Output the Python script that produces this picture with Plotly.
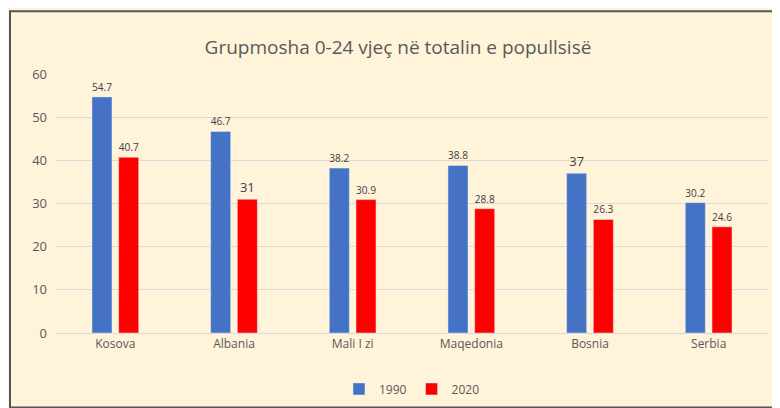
import plotly.graph_objects as go

categories = ["Kosova", "Albania", "Mali I zi", "Maqedonia", "Bosnia", "Serbia"]
v1990 = [54.7, 46.7, 38.2, 38.8, 37, 30.2]
v2020 = [40.7, 31, 30.9, 28.8, 26.3, 24.6]

fig = go.Figure()
fig.add_bar(x=categories, y=v1990, name="1990", marker_color="#4472C4",
            text=[str(v) for v in v1990], textposition="outside", cliponaxis=False,
            textfont=dict(color="#404040", size=13))
fig.add_bar(x=categories, y=v2020, name="2020", marker_color="#FF0000",
            text=[str(v) for v in v2020], textposition="outside", cliponaxis=False,
            textfont=dict(color="#404040", size=13))
fig.update_layout(
    width=780, height=408,
    paper_bgcolor="#FFF3DA", plot_bgcolor="#FFF3DA",
    font=dict(family="Open Sans", color="#595959", size=12),
    title=dict(text="Grupmosha 0-24 vjeç në totalin e popullsisë", x=0.5, y=0.92,
               xanchor="center", font=dict(size=19, color="#595959", family="Open Sans")),
    margin=dict(l=48, r=20, t=66, b=78),
    barmode="group", bargap=0.55, bargroupgap=0.25,
    legend=dict(orientation="h", x=0.5, xanchor="center", y=-0.16, yanchor="top",
                font=dict(size=12)),
    yaxis=dict(range=[0, 60], dtick=10, gridcolor="#D9D9D9", zeroline=False,
               tickfont=dict(size=13), ticklabelstandoff=8),
    xaxis=dict(showline=True, linecolor="#D9D9D9", tickfont=dict(size=12)),
)
fig.add_shape(type="rect", xref="paper", yref="paper", x0=-46/712, x1=1+18/712,
              y0=-76/264, y1=1+64/264, line=dict(color="#555555", width=2))
fig.write_html("out.html")
